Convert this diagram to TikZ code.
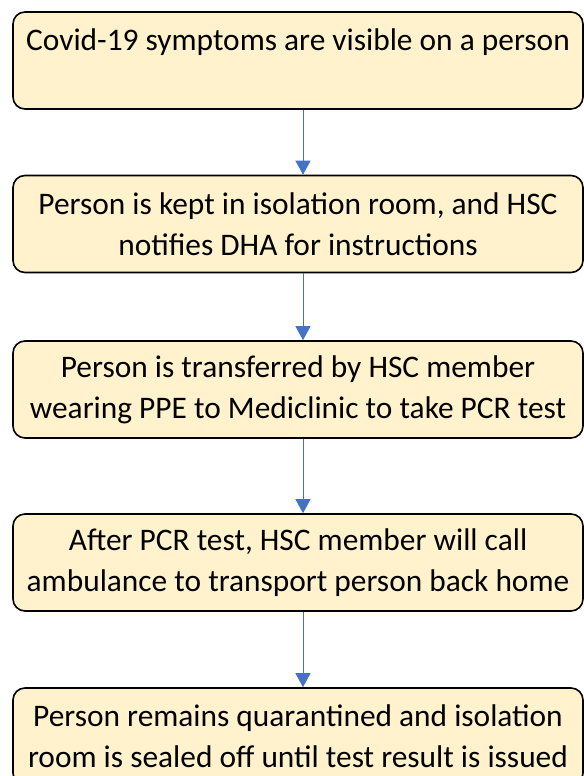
\documentclass[tikz,border=0pt]{standalone}
\usepackage{fontspec}
\setmainfont{Carlito}
\usepackage{tikz}
\usetikzlibrary{arrows.meta,positioning}
\definecolor{stepFill}{RGB}{255,242,204}
\definecolor{stepArrow}{RGB}{68,114,196}

\begin{document}
\begin{tikzpicture}[x=1bp, y=1bp,
    stepbox/.style={draw=black, line width=1.6bp, fill=stepFill, rounded corners=12bp,
        minimum width=570bp, minimum height=97bp, inner sep=2bp, align=center,
        font=\fontsize{31.5}{41}\selectfont},
    flowline/.style={stepArrow, line width=1bp, -{Triangle[length=14bp, width=15bp]}}]
\useasboundingbox (0,0) rectangle (584,776);

\node[stepbox] (symptoms)   at (298,715.5) {Covid-19 symptoms are visible on a person\\\mbox{}};
\node[stepbox] (isolation)  at (298,552)   {Person is kept in isolation room, and HSC\\notifies DHA for instructions};
\node[stepbox] (transfer)   at (298,386.5) {Person is transferred by HSC member\\wearing PPE to Mediclinic to take PCR test};
\node[stepbox] (ambulance)  at (298,213.5) {After PCR test, HSC member will call\\ambulance to transport person back home};
\node[stepbox] (quarantine) at (298,39.5)  {Person remains quarantined and isolation\\room is sealed off until test result is issued};

\foreach \a/\b in {symptoms/isolation,isolation/transfer,transfer/ambulance,ambulance/quarantine}
{
    \draw[flowline] ([xshift=5bp]\a.south) -- ([xshift=5bp]\b.north);
}
\end{tikzpicture}
\end{document}
